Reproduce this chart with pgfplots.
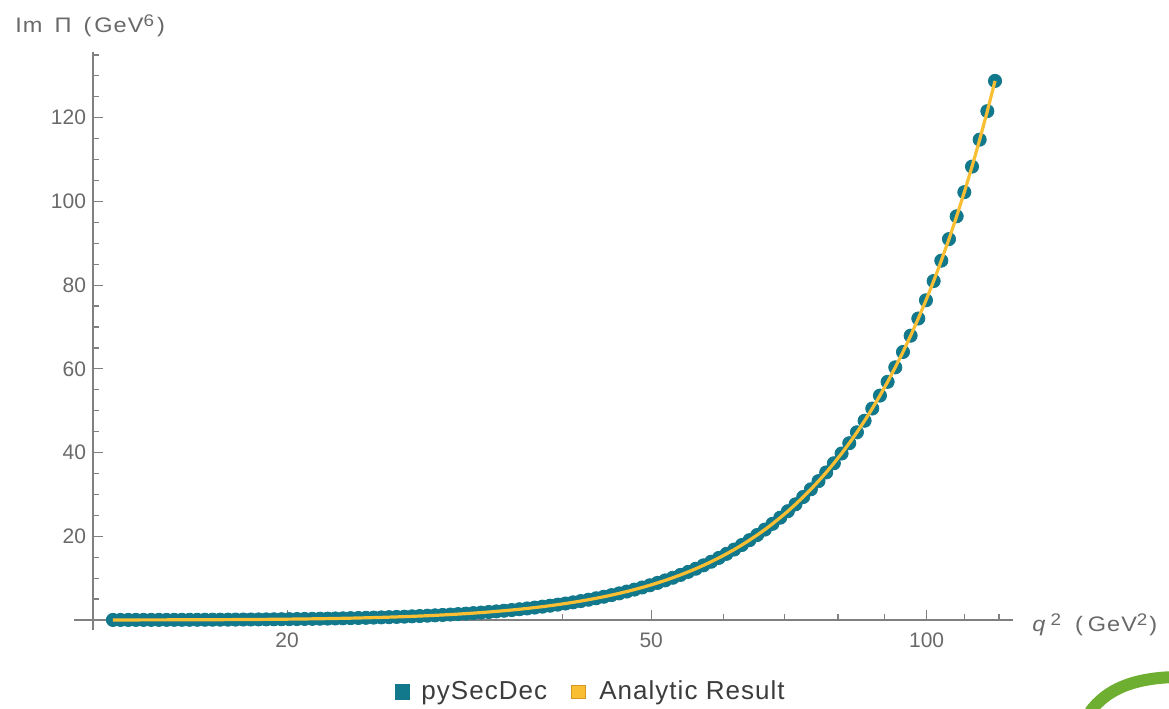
\documentclass[border=0pt]{standalone}
\usepackage{fontspec}
\setmainfont{Liberation Sans}
\newfontfamily\legfont[LetterSpace=4]{Liberation Sans}
\newfontfamily\labfont[FakeStretch=1.12,LetterSpace=5]{Liberation Sans}
\newcommand\sups[1]{\raisebox{3pt}{\fontsize{8.4}{9}\selectfont #1}}
\usepackage{pgfplots}
\pgfplotsset{compat=1.18}
\usepackage{pgfplotstable}
\definecolor{teal1}{RGB}{18,120,140}
\definecolor{gold1}{RGB}{250,190,50}
\definecolor{goldedge}{RGB}{215,150,40}
\definecolor{axgray}{RGB}{128,128,128}
\definecolor{lblgray}{RGB}{105,105,105}
\definecolor{txtgray}{RGB}{60,60,60}
\definecolor{logogreen}{RGB}{110,175,50}

\pgfplotstableread{
x y
12.900 0.0065
13.151 0.0082
13.408 0.0101
13.669 0.0123
13.935 0.0149
14.207 0.0179
14.484 0.0213
14.766 0.0252
15.054 0.0296
15.347 0.0345
15.646 0.0400
15.951 0.0462
16.262 0.0531
16.579 0.0608
16.902 0.0692
17.232 0.0787
17.568 0.0890
17.910 0.1004
18.259 0.1130
18.615 0.1268
18.978 0.1419
19.348 0.1585
19.725 0.1766
20.110 0.1963
20.502 0.2178
20.901 0.2411
21.309 0.2666
21.724 0.2941
22.148 0.3241
22.579 0.3564
23.019 0.3915
23.468 0.4295
23.926 0.4705
24.392 0.5148
24.868 0.5626
25.352 0.6140
25.846 0.6694
26.350 0.7292
26.864 0.7935
27.388 0.8626
27.922 0.9368
28.466 1.0165
29.021 1.1021
29.587 1.1939
30.164 1.2924
30.752 1.3979
31.351 1.5109
31.962 1.6319
32.585 1.7614
33.220 1.8999
33.868 2.0481
34.528 2.2065
35.201 2.3758
35.887 2.5566
36.587 2.7497
37.300 2.9556
38.027 3.1755
38.768 3.4096
39.524 3.6599
40.294 3.9265
41.080 4.2109
41.881 4.5139
42.697 4.8363
43.529 5.1798
44.378 5.5458
45.243 5.9351
46.125 6.3495
47.024 6.7902
47.941 7.2592
48.875 7.7576
49.828 8.2878
50.799 8.8512
51.789 9.4497
52.799 10.087
53.828 10.763
54.877 11.481
55.947 12.244
57.037 13.053
58.149 13.912
59.283 14.825
60.438 15.794
61.617 16.822
62.818 17.912
64.042 19.068
65.291 20.295
66.563 21.595
67.861 22.974
69.184 24.437
70.533 25.988
71.908 27.632
73.310 29.375
74.739 31.219
76.196 33.175
77.681 35.246
79.195 37.441
80.739 39.766
82.313 42.226
83.918 44.834
85.554 47.595
87.222 50.516
88.922 53.610
90.656 56.887
92.423 60.355
94.225 64.025
96.062 67.914
97.935 72.026
99.844 76.376
101.790 80.975
103.774 85.844
105.797 90.998
107.860 96.447
109.963 102.21
112.107 108.31
114.292 114.76
116.520 121.57
118.791 128.79
}\datatable

\begin{document}
\begin{tikzpicture}
\begin{axis}[
  at={(46.5pt,39pt)}, anchor=south west,
  scale only axis, width=460pt, height=289pt,
  xmode=log, xmin=12.27, xmax=124.3, ymin=-2.4, ymax=135.7,
  axis x line*=middle, axis y line*=left,
  axis line style={axgray, line width=0.6pt},
  xtick={20,50,100}, xticklabels={20,50,100},
  minor xtick={15,30,40,60,70,80,90,110,120},
  ytick={20,40,60,80,100,120},
  minor ytick={5,10,15,25,30,35,45,50,55,65,70,75,85,90,95,105,110,115,125,130,135},
  tick align=inside,
  major tick length=5pt, minor tick length=2.8pt,
  tick style={axgray, line width=0.6pt},
  tick label style={font=\fontsize{10.5}{12}\selectfont, text=lblgray},
  xticklabel style={yshift=-3pt},
  /pgf/number format/assume math mode=true,
  clip=false,
  clip mode=individual,
  legend columns=2,
  legend cell align=left,
  legend style={at={(0.542,-0.107)}, anchor=center, draw=none, fill=none,
    font=\legfont\fontsize{13}{15}\selectfont, text=txtgray,
    /tikz/every even column/.append style={column sep=10pt}},
]
\draw[axgray, line width=0.6pt] (axis cs:11.7,0) -- (axis cs:12.27,0);
\addplot[only marks, mark=*, mark size=3.3pt, color=teal1,
  legend image code/.code={\fill[teal1] (0pt,-3.6pt) rectangle (7.2pt,3.6pt); \path (11pt,0pt);}]
  table[x=x,y=y] {\datatable};
\addlegendentry{pySecDec}
\addplot[no marks, color=gold1, line width=1.6pt,
  legend image code/.code={\draw[fill=gold1, draw=goldedge, line width=0.5pt] (0pt,-3.4pt) rectangle (6.8pt,3.4pt); \path (11pt,0pt);}]
  table[x=x,y=y] {\datatable};
\addlegendentry{Analytic Result}
\end{axis}
\node[anchor=base west, inner sep=0pt, font=\labfont\fontsize{10.5}{12}\selectfont, text=lblgray]
  at (7.5pt,337.5pt) {Im\hspace{6pt}Π\hspace{6pt}(\hspace{1.5pt}GeV\sups{6}\hspace{1.5pt})};
\node[anchor=base west, inner sep=0pt, font=\labfont\fontsize{10.5}{12}\selectfont, text=lblgray]
  at (516pt,38pt) {\textit{q}\hspace{2pt}\sups{2}\hspace{7pt}(\hspace{2.5pt}GeV\sups{2}\hspace{1pt})};
\draw[line width=6pt, logogreen] (545pt,-2pt) .. controls (553pt,9pt) and (566pt,15pt) .. (588pt,15.5pt);
\pgfresetboundingbox
\path[use as bounding box] (0pt,0pt) rectangle (584.5pt,354pt);
\end{tikzpicture}
\end{document}
